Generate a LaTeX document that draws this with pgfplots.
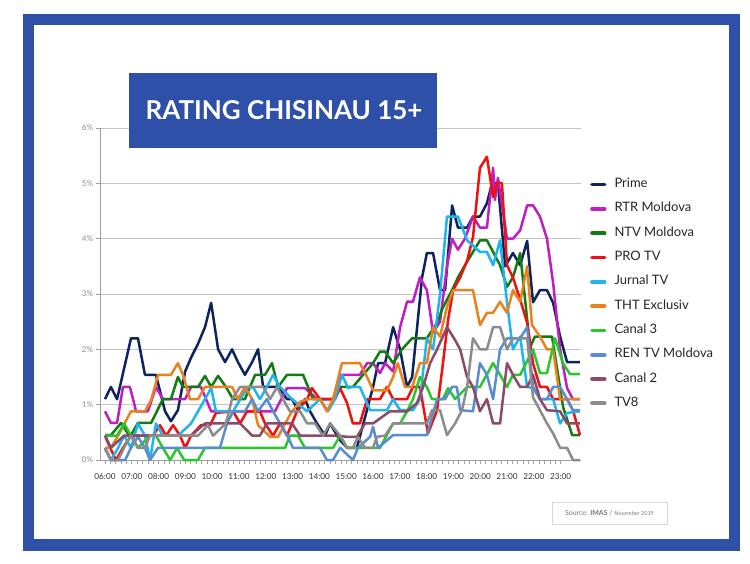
\documentclass[border=0pt]{standalone}
\usepackage{fontspec}
\setmainfont{Lato}
\usepackage{pgfplots}
\pgfplotsset{compat=1.18}
\definecolor{frameblue}{RGB}{47,80,168}
\definecolor{cPrime}{RGB}{14,36,96}
\definecolor{cRTR}{RGB}{192,30,192}
\definecolor{cNTV}{RGB}{18,124,18}
\definecolor{cPRO}{RGB}{240,16,16}
\definecolor{cJurnal}{RGB}{30,180,240}
\definecolor{cTHT}{RGB}{232,130,30}
\definecolor{cCanal3}{RGB}{40,200,40}
\definecolor{cREN}{RGB}{90,140,210}
\definecolor{cCanal2}{RGB}{140,74,106}
\definecolor{cTV8}{RGB}{140,140,140}
\definecolor{gridgray}{RGB}{195,195,195}
\definecolor{axgray}{RGB}{160,160,160}
\definecolor{srcgray}{RGB}{120,120,120}
\begin{document}
\begin{tikzpicture}[x=1pt,y=1pt]
\begin{scope}[shift={(-100pt,-103pt)}]
\useasboundingbox (0,0) rectangle (750,563);
\fill[white] (0,0) rectangle (750,563);
\fill[frameblue] (23,12) rectangle (740,549);
\fill[white] (34,24) rectangle (729,538);
\end{scope}
\begin{axis}[
  width=481pt, height=332pt, scale only axis,
  xmin=5.813, xmax=23.76, ymin=0, ymax=6,
  clip=false,
  axis x line*=bottom, axis y line*=left,
  axis line style={draw=axgray, line width=0.8pt, -},
  xtick={6,7,...,23},
  xticklabels={06:00,07:00,08:00,09:00,10:00,11:00,12:00,13:00,14:00,15:00,16:00,17:00,18:00,19:00,20:00,21:00,22:00,23:00},
  minor x tick num=4,
  ytick={0,1,...,6},
  yticklabel={\pgfmathprintnumber{\tick}\%},
  /pgf/number format/assume math mode=true,
  tick align=outside,
  major tick length=3.5pt, minor tick length=3.5pt,
  tick style={draw=axgray, line width=0.7pt},
  ymajorgrids, grid style={draw=gridgray, line width=0.8pt},
  xticklabel style={font=\fontsize{8.2}{10}\selectfont, text=black!80, yshift=-7pt},
  yticklabel style={font=\fontsize{8}{10}\selectfont, text=black!45, xshift=0pt},
  every axis plot/.append style={line width=2.5pt, line join=round, no markers},
  legend style={at={(1.0187,0.847)}, anchor=north west, draw=none, fill=none,
    inner sep=0pt, row sep=13.1pt,
    nodes={inner sep=0pt, text height=8.6pt, text depth=2.6pt, font=\fontsize{13}{15}\selectfont, text=black!85},
    /tikz/every odd column/.append style={column sep=8pt}},
  legend cell align=left,
  legend image code/.code={\draw[line width=3.6pt, line cap=round] (1.8pt,0pt) -- (14.5pt,0pt);},
]
% Prime
\addplot[cPrime] coordinates {(6.00,1.1)(6.22,1.32)(6.45,1.1)(6.97,2.2)(7.23,2.2)(7.49,1.54)(7.90,1.54)(8.24,0.88)(8.46,0.7)(8.72,0.9)(8.99,1.6)(9.21,1.85)(9.47,2.1)(9.73,2.4)(9.96,2.84)(10.22,2.0)(10.48,1.77)(10.74,2.0)(10.96,1.77)(11.22,1.54)(11.49,1.77)(11.71,2.0)(11.90,1.32)(12.46,1.32)(12.79,1.1)(12.98,1.1)(13.20,0.9)(13.46,1.1)(13.65,0.88)(13.91,0.66)(14.21,0.44)(14.40,0.66)(14.66,0.44)(14.77,0.36)(15.03,0.22)(15.40,0.22)(15.70,0.77)(16.00,1.32)(16.19,1.75)(16.45,1.75)(16.75,2.4)(17.01,2.0)(17.27,1.32)(17.46,1.5)(17.83,3.3)(18.01,3.74)(18.24,3.74)(18.50,3.07)(18.69,3.07)(18.95,4.6)(19.17,4.2)(19.51,4.2)(19.73,4.4)(19.99,4.4)(20.25,4.64)(20.44,5.0)(20.66,5.0)(20.93,3.5)(21.22,3.74)(21.49,3.52)(21.75,3.96)(21.97,2.85)(22.23,3.07)(22.49,3.07)(22.72,2.84)(22.98,2.23)(23.24,1.77)(23.72,1.77)};
\addlegendentry{Prime}
% RTR Moldova
\addplot[cRTR] coordinates {(6.00,0.88)(6.22,0.67)(6.45,0.67)(6.67,1.32)(6.93,1.32)(7.16,0.88)(7.60,0.88)(7.90,1.32)(8.16,1.1)(8.99,1.1)(9.21,1.32)(9.58,1.32)(9.96,0.88)(12.34,0.88)(12.79,1.3)(13.46,1.3)(13.91,1.1)(14.51,1.1)(14.77,1.54)(15.51,1.54)(15.78,1.75)(16.00,1.75)(16.26,1.57)(16.45,1.75)(16.75,1.6)(17.01,2.4)(17.27,2.86)(17.49,2.86)(17.75,3.3)(18.01,3.07)(18.24,2.3)(18.50,2.5)(18.76,3.5)(18.95,4.0)(19.17,3.8)(19.43,4.0)(19.73,4.4)(19.99,4.2)(20.25,4.2)(20.48,5.28)(20.55,4.7)(20.66,5.1)(21.00,4.0)(21.22,4.0)(21.49,4.15)(21.75,4.6)(21.97,4.6)(22.23,4.4)(22.49,4.0)(22.72,3.2)(22.98,2.0)(23.24,1.3)(23.46,1.1)(23.72,1.1)};
\addlegendentry{RTR Moldova}
% NTV Moldova
\addplot[cNTV] coordinates {(6.00,0.45)(6.22,0.45)(6.60,0.67)(6.93,0.42)(7.23,0.67)(7.72,0.67)(8.16,1.1)(8.46,1.1)(8.72,1.5)(8.91,1.32)(9.47,1.32)(9.73,1.52)(9.96,1.32)(10.22,1.52)(10.51,1.32)(10.78,1.1)(11.22,1.1)(11.60,1.54)(11.97,1.54)(12.23,1.75)(12.46,1.32)(12.79,1.54)(13.39,1.54)(13.76,1.1)(14.51,1.1)(14.77,1.32)(15.25,1.32)(15.63,1.54)(16.00,1.75)(16.26,1.96)(16.45,1.96)(16.75,1.75)(17.08,2.0)(17.46,2.2)(18.01,2.2)(18.39,2.48)(18.61,2.76)(18.95,3.07)(19.17,3.3)(19.43,3.52)(19.73,3.76)(19.99,3.97)(20.25,3.97)(20.48,3.76)(20.74,3.52)(21.00,3.13)(21.22,3.3)(21.49,3.74)(21.86,2.04)(22.04,2.23)(22.68,2.23)(23.09,0.96)(23.43,0.45)(23.72,0.45)};
\addlegendentry{NTV Moldova}
% PRO TV
\addplot[cPRO] coordinates {(6.00,0.44)(6.19,0.22)(6.41,0.0)(6.67,0.22)(6.97,0.44)(7.79,0.44)(8.05,0.63)(8.28,0.44)(8.54,0.63)(8.80,0.44)(8.99,0.22)(9.21,0.44)(9.58,0.63)(9.92,0.63)(10.14,0.85)(10.78,0.88)(11.04,0.66)(11.30,0.88)(11.78,0.88)(11.97,0.66)(12.27,0.44)(12.53,0.66)(12.79,0.44)(13.16,0.88)(13.54,1.1)(13.72,1.3)(14.02,1.1)(14.58,1.1)(14.77,1.3)(15.03,1.03)(15.25,0.66)(15.51,0.66)(15.78,1.1)(16.26,1.1)(16.52,1.32)(16.75,1.1)(17.27,1.1)(17.49,1.32)(17.75,1.32)(18.05,0.48)(18.39,0.9)(18.61,1.75)(18.80,2.53)(18.99,3.07)(19.25,3.3)(19.51,3.6)(19.73,4.03)(19.99,5.28)(20.25,5.48)(20.48,4.75)(20.66,5.02)(20.81,5.0)(21.00,3.52)(21.22,3.3)(21.49,2.9)(21.75,2.48)(21.97,1.75)(22.23,1.32)(22.49,1.32)(22.72,1.1)(23.24,1.1)(23.46,0.9)(23.72,0.45)};
\addlegendentry{PRO TV}
% Jurnal TV
\addplot[cJurnal] coordinates {(6.00,0.22)(6.22,0.0)(6.49,0.22)(6.71,0.44)(6.97,0.22)(7.23,0.66)(7.49,0.44)(7.68,0.0)(7.90,0.66)(8.16,0.44)(8.72,0.44)(9.21,0.66)(9.47,0.88)(9.73,1.1)(9.96,1.3)(10.14,0.88)(10.78,0.88)(11.30,1.3)(11.52,1.32)(11.78,1.1)(12.04,1.32)(12.27,1.54)(12.53,1.32)(12.98,1.1)(13.54,0.88)(14.02,1.1)(14.32,0.88)(14.58,1.1)(14.84,1.54)(15.07,1.3)(15.22,1.32)(15.51,1.32)(15.89,0.9)(16.52,0.9)(16.75,1.1)(17.01,0.9)(17.49,0.9)(17.75,1.1)(18.01,2.2)(18.24,2.0)(18.50,3.0)(18.76,4.4)(19.17,4.4)(19.51,3.97)(19.99,3.76)(20.25,3.76)(20.48,3.52)(20.74,3.97)(21.00,2.84)(21.22,2.0)(21.49,2.23)(21.75,1.32)(21.97,1.3)(22.23,1.1)(22.72,1.1)(22.98,0.66)(23.24,0.85)(23.72,0.88)};
\addlegendentry{Jurnal TV}
% THT Exclusiv
\addplot[cTHT] coordinates {(6.00,0.22)(6.22,0.22)(6.49,0.44)(6.75,0.68)(6.97,0.88)(7.49,0.88)(7.72,1.08)(7.98,1.54)(8.46,1.54)(8.72,1.75)(8.91,1.54)(9.17,1.1)(9.47,1.1)(9.73,1.32)(10.51,1.32)(10.74,1.32)(10.96,1.1)(11.22,1.32)(11.49,1.1)(11.71,0.63)(12.16,0.42)(12.46,0.42)(12.72,0.66)(12.98,0.88)(13.28,1.05)(13.54,1.1)(14.02,1.1)(14.28,0.88)(14.51,1.1)(14.84,1.75)(15.51,1.75)(15.78,1.5)(16.00,1.26)(16.52,1.26)(16.75,1.5)(16.93,1.75)(17.19,1.32)(17.46,1.32)(17.75,1.75)(18.01,1.75)(18.24,2.4)(18.50,2.23)(18.76,2.77)(18.99,3.07)(19.73,3.07)(19.99,2.44)(20.25,2.66)(20.48,2.66)(20.74,2.86)(21.00,2.66)(21.22,3.07)(21.49,2.86)(21.75,3.5)(21.93,2.44)(22.23,2.23)(22.49,2.0)(22.72,2.0)(22.98,1.1)(23.72,1.1)};
\addlegendentry{THT Exclusiv}
% Canal 3
\addplot[cCanal3] coordinates {(6.00,0.44)(6.45,0.44)(6.71,0.66)(6.97,0.44)(7.23,0.22)(7.68,0.44)(7.90,0.44)(8.16,0.22)(8.43,0.0)(8.69,0.22)(8.95,0.0)(9.47,0.0)(9.73,0.22)(12.72,0.22)(12.90,0.44)(13.20,0.44)(13.46,0.22)(14.51,0.22)(14.77,0.44)(15.03,0.22)(16.26,0.22)(16.75,0.66)(17.01,0.66)(17.27,0.88)(17.49,1.1)(17.75,1.5)(18.01,1.32)(18.20,1.1)(18.61,1.1)(18.80,1.3)(19.06,1.1)(19.51,1.32)(19.99,1.32)(20.48,1.75)(20.74,1.54)(21.00,1.32)(21.22,1.54)(21.49,1.54)(21.97,2.0)(22.23,1.57)(22.49,1.57)(22.79,2.2)(23.09,1.75)(23.35,1.55)(23.72,1.55)};
\addlegendentry{Canal 3}
% REN TV Moldova
\addplot[cREN] coordinates {(6.00,0.2)(6.22,0.0)(6.75,0.0)(6.97,0.22)(7.23,0.42)(7.49,0.22)(7.68,0.0)(7.98,0.22)(9.96,0.22)(10.29,0.22)(10.55,0.66)(10.78,0.88)(11.22,0.88)(11.49,1.1)(11.71,0.88)(12.04,1.1)(12.27,0.88)(12.53,0.66)(12.83,0.42)(13.01,0.22)(14.02,0.22)(14.28,0.0)(14.51,0.0)(14.77,0.22)(15.25,0.0)(15.44,0.22)(15.89,0.42)(16.00,0.6)(16.19,0.22)(16.75,0.45)(18.01,0.45)(18.39,1.1)(18.69,1.1)(18.95,1.32)(19.13,1.32)(19.25,0.9)(19.73,0.88)(19.99,1.75)(20.25,1.54)(20.48,1.1)(20.74,2.0)(21.00,2.2)(21.49,2.2)(21.75,2.4)(21.97,1.32)(22.23,1.1)(22.49,1.1)(22.72,1.32)(22.98,1.32)(23.24,1.1)(23.46,0.9)(23.72,0.9)};
\addlegendentry{REN TV Moldova}
% Canal 2
\addplot[cCanal2] coordinates {(6.00,0.44)(6.22,0.22)(6.71,0.44)(9.21,0.44)(9.73,0.66)(11.04,0.66)(11.49,0.44)(11.78,0.44)(12.04,0.66)(12.98,0.66)(13.28,0.44)(14.58,0.44)(15.03,0.42)(15.40,0.42)(15.70,0.66)(16.00,0.66)(16.63,0.88)(17.27,0.88)(17.64,1.03)(17.87,1.32)(18.13,1.75)(18.39,2.0)(18.76,2.4)(19.06,2.17)(19.25,2.0)(19.51,1.5)(19.73,1.32)(19.99,0.88)(20.25,1.1)(20.48,0.66)(20.74,0.66)(21.00,1.75)(21.22,1.54)(21.49,1.32)(21.75,1.32)(21.97,1.54)(22.23,1.1)(22.49,0.9)(22.98,0.88)(23.24,0.66)(23.72,0.66)};
\addlegendentry{Canal 2}
% TV8
\addplot[cTV8] coordinates {(6.00,0.22)(6.22,0.0)(6.49,0.0)(6.71,0.22)(6.97,0.44)(7.23,0.22)(7.49,0.22)(7.68,0.44)(9.47,0.44)(9.84,0.63)(10.03,0.44)(10.51,0.66)(10.74,1.1)(11.04,1.32)(11.90,1.32)(12.16,1.1)(12.42,1.32)(12.64,1.1)(12.90,0.88)(13.28,0.88)(13.54,0.66)(13.84,0.66)(14.13,0.44)(14.40,0.66)(14.77,0.44)(15.03,0.22)(15.25,0.22)(15.44,0.42)(15.70,0.22)(16.00,0.22)(16.15,0.42)(16.45,0.44)(16.75,0.66)(18.01,0.66)(18.20,0.9)(18.50,0.9)(18.76,0.45)(19.06,0.66)(19.32,0.9)(19.51,1.32)(19.73,2.2)(19.99,2.0)(20.25,2.0)(20.48,2.4)(20.74,2.4)(21.00,2.0)(21.22,2.2)(21.75,2.2)(21.97,1.13)(22.23,0.9)(22.49,0.66)(22.72,0.48)(22.98,0.22)(23.24,0.22)(23.46,0.0)(23.72,0.0)};
\addlegendentry{TV8}
\end{axis}
\begin{scope}[shift={(-100pt,-103pt)}]
% title box
\fill[frameblue] (129,415) rectangle (437,490);
\node[text=white, font=\fontsize{26}{30}\selectfont\bfseries, anchor=base] at (284,443) {RATING CHISINAU 15+};
% source box
\draw[draw=black!15, fill=white, line width=0.6pt] (552,39) rectangle (667,61);
\node[anchor=base, text=srcgray, font=\fontsize{7}{8}\selectfont] at (609.5,47.5) {Source: \textbf{IMAS} / {\fontsize{5.5}{7}\selectfont November 2019}};
\end{scope}
\end{tikzpicture}
\end{document}
